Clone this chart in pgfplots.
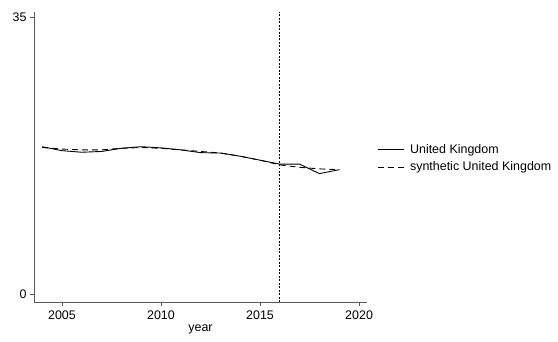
\documentclass[border=0pt]{standalone}
\usepackage{pgfplots}
\pgfplotsset{compat=1.18}
\usepackage{fontspec}
\setmainfont{Liberation Sans}
\begin{document}
\begin{tikzpicture}[x=1bp,y=1bp]
\useasboundingbox (0,0) rectangle (558,341);
\begin{axis}[
  at={(34bp,39bp)}, anchor=south west,
  scale only axis, width=333bp, height=290bp,
  xmin=2003.59, xmax=2020.4, ymin=-1.0, ymax=35.6,
  axis x line*=bottom, axis y line*=left,
  axis line style={color=black!65, -},
  xtick={2005,2010,2015,2020}, ytick={0,35},
  tick align=outside, major tick length=4bp,
  tick style={color=black!65},
  xticklabel style={font=\fontsize{12.5}{13}\selectfont, yshift=-1bp},
  yticklabel style={font=\fontsize{12.5}{13}\selectfont},
  /pgf/number format/assume math mode=true,
  /pgf/number format/1000 sep={},
  xlabel={year}, xlabel style={font=\fontsize{12.5}{13}\selectfont, yshift=1.5bp},
  legend style={at={(1.03,0.495)}, anchor=west, draw=none, fill=none,
    font=\fontsize{12.5}{13}\selectfont, inner sep=0pt, row sep=3pt,
    legend cell align=left},
  legend image code/.code={\draw[#1] (0bp,0bp) -- (26bp,0bp); \path (30bp,0bp);},
  clip=false,
]
\addplot[black, line width=0.9pt] coordinates {
(2004,18.6) (2005,18.1) (2006,17.9) (2007,18.0) (2008,18.4) (2009,18.6)
(2010,18.45) (2011,18.2) (2012,17.85) (2013,17.8) (2014,17.4) (2015,16.9)
(2016,16.4) (2017,16.4) (2018,15.2) (2019,15.7)};
\addlegendentry{United Kingdom}
\addplot[black, line width=0.9pt, dash pattern=on 6pt off 4pt] coordinates {
(2004,18.5) (2005,18.3) (2006,18.2) (2007,18.2) (2008,18.4) (2009,18.5)
(2010,18.4) (2011,18.2) (2012,18.0) (2013,17.8) (2014,17.4) (2015,16.9)
(2016,16.3) (2017,16.0) (2018,15.8) (2019,15.7)};
\addlegendentry{synthetic United Kingdom}
\addplot[black, line width=0.7pt, dash pattern=on 2pt off 1.5pt, forget plot] coordinates {(2016,-1.0) (2016,35.6)};
\end{axis}
\end{tikzpicture}
\end{document}
